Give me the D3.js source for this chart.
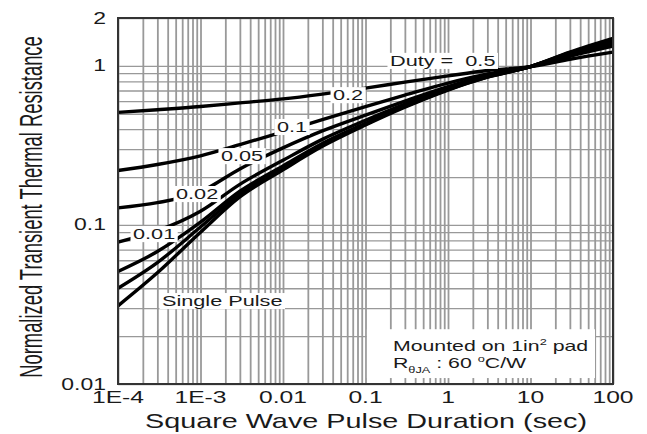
<!DOCTYPE html>
<html>
<head>
<meta charset="utf-8">
<script src="https://cdn.jsdelivr.net/npm/d3@7"></script>
<style>
  html, body { margin: 0; padding: 0; background: #fff; }
  svg { display: block; font-family: "Liberation Sans", Arial, sans-serif; }
</style>
</head>
<body>
<svg id="chart" width="647" height="434"></svg>
<script>
// Pulse durations (sec) at which each curve is sampled
const pulseDuration = [1e-4, 3e-4, 1e-3, 3e-3, 1e-2, 3e-2, 0.1, 0.3, 1, 3, 10, 30, 100];

// Normalized transient thermal resistance for each duty cycle
const duty05     = [0.51, 0.53, 0.555, 0.585, 0.62, 0.665, 0.725, 0.79, 0.865, 0.935, 0.99, 1.10, 1.22];
const duty02     = [0.22, 0.24, 0.272, 0.32, 0.385, 0.46, 0.555, 0.655, 0.78, 0.89, 0.99, 1.15, 1.33];
const duty01     = [0.128, 0.138, 0.162, 0.225, 0.305, 0.39, 0.49, 0.60, 0.74, 0.87, 0.99, 1.17, 1.38];
const duty005    = [0.078, 0.092, 0.122, 0.18, 0.255, 0.345, 0.455, 0.575, 0.725, 0.86, 0.99, 1.19, 1.42];
const duty002    = [0.051, 0.068, 0.104, 0.163, 0.235, 0.325, 0.435, 0.56, 0.715, 0.855, 0.99, 1.20, 1.45];
const duty001    = [0.040, 0.058, 0.097, 0.156, 0.228, 0.318, 0.43, 0.555, 0.71, 0.85, 0.99, 1.21, 1.47];
const singlePulse = [0.031, 0.050, 0.090, 0.150, 0.222, 0.312, 0.425, 0.55, 0.705, 0.85, 0.99, 1.22, 1.49];

const seriesList = [duty05, duty02, duty01, duty005, duty002, duty001, singlePulse];

// Axis ticks
const xTickValues = [1e-4, 1e-3, 0.01, 0.1, 1, 10, 100];
const xTickLabels = ["1E-4", "1E-3", "0.01", "0.1", "1", "10", "100"];
const yTickValues = [0.01, 0.1, 1, 2];
const yTickLabels = ["0.01", "0.1", "1", "2"];

// Curve annotations: text and anchor (pulse duration, resistance) of the text start/baseline
const curveLabelText = ["Duty =  0.5", "0.2", "0.1", "0.05", "0.02", "0.01", "Single Pulse"];
const curveLabelAt = [[0.198, 1.0], [0.0404, 0.609], [0.00845, 0.384], [0.00177, 0.252],
                      [5.05e-4, 0.1455], [1.52e-4, 0.0815], [3.41e-4, 0.0309]];

const W = 647, H = 434;
const plot = { left: 118, right: 613, top: 18, bottom: 384 };
const textColor = "#1a1a1a";
const gridColor = "#999";

const svg = d3.select("#chart");

const x = d3.scaleLog().domain([1e-4, 100]).range([plot.left, plot.right]);
const y = d3.scaleLog().domain([0.01, 2]).range([plot.bottom, plot.top]);

// Minor + major grid values (1..9 per decade)
const xGrid = [];
for (let e = -4; e <= 2; e++) for (let i = 1; i <= 9; i++) {
  const v = i * Math.pow(10, e);
  if (v <= 100 * 1.0001) xGrid.push(v);
}
const yGrid = [];
for (let e = -2; e <= 0; e++) for (let i = 1; i <= 9; i++) {
  const v = i * Math.pow(10, e);
  if (v <= 2) yGrid.push(v);
}

// Vertical grid
svg.append("g")
  .attr("transform", `translate(0,${plot.bottom})`)
  .call(d3.axisBottom(x).tickValues(xGrid).tickSize(-(plot.bottom - plot.top)).tickFormat(""))
  .call(g => g.select(".domain").remove())
  .call(g => g.selectAll("line").attr("stroke", gridColor).attr("stroke-width", 1.8));

// Horizontal grid
svg.append("g")
  .attr("transform", `translate(${plot.left},0)`)
  .call(d3.axisLeft(y).tickValues(yGrid).tickSize(-(plot.right - plot.left)).tickFormat(""))
  .call(g => g.select(".domain").remove())
  .call(g => g.selectAll("line").attr("stroke", gridColor).attr("stroke-width", 1.3));

// Curves
const line = d3.line()
  .x((d, i) => x(pulseDuration[i]))
  .y(d => y(d))
  .curve(d3.curveMonotoneX);

svg.append("g")
  .selectAll("path")
  .data(seriesList)
  .join("path")
  .attr("d", line)
  .attr("fill", "none")
  .attr("stroke", "#000")
  .attr("stroke-width", 3.4)
  .attr("stroke-linejoin", "round");

// Curve labels on white boxes
const labelScale = 1.55;
curveLabelText.forEach((t, i) => {
  const [px, py] = curveLabelAt[i];
  const g = svg.append("g")
    .attr("transform", `translate(${x(px)},${y(py)}) scale(${labelScale},1)`);
  const txt = g.append("text")
    .attr("font-size", 14)
    .attr("fill", textColor)
    .attr("xml:space", "preserve")
    .style("white-space", "pre")
    .text(t);
  const bb = txt.node().getBBox();
  g.insert("rect", "text")
    .attr("x", bb.x - 2.5 / labelScale)
    .attr("y", bb.y)
    .attr("width", bb.width + 5 / labelScale)
    .attr("height", bb.height)
    .attr("fill", "#fff");
});

// Mounting condition note
const noteBox = svg.append("g");
noteBox.append("rect")
  .attr("x", x(0.104))
  .attr("y", y(0.0221))
  .attr("width", x(60.5) - x(0.104))
  .attr("height", y(0.0109) - y(0.0221))
  .attr("fill", "#fff");
const note1 = noteBox.append("text")
  .attr("transform", `translate(${x(0.215)},${y(0.0161)}) scale(1.42,1)`)
  .attr("font-size", 15).attr("fill", textColor);
note1.append("tspan").text("Mounted on 1in");
note1.append("tspan").attr("font-size", 9).attr("dy", -6).text("2");
note1.append("tspan").attr("dy", 6).text(" pad");
const note2 = noteBox.append("text")
  .attr("transform", `translate(${x(0.215)},${y(0.0126)}) scale(1.42,1)`)
  .attr("font-size", 15).attr("fill", textColor);
note2.append("tspan").text("R");
note2.append("tspan").attr("font-size", 9).attr("dy", 5).text("θJA");
note2.append("tspan").attr("dy", -5).text(" : 60 ");
note2.append("tspan").attr("font-size", 9).attr("dy", -6).text("o");
note2.append("tspan").attr("dy", 6).text("C/W");

// Plot frame
svg.append("rect")
  .attr("x", plot.left).attr("y", plot.top)
  .attr("width", plot.right - plot.left).attr("height", plot.bottom - plot.top)
  .attr("fill", "none").attr("stroke", "#333").attr("stroke-width", 2);

// X tick labels
svg.append("g").selectAll("text")
  .data(xTickValues)
  .join("text")
  .attr("transform", d => `translate(${x(d)},403) scale(1.45,1)`)
  .attr("text-anchor", "middle")
  .attr("font-size", 17)
  .attr("fill", textColor)
  .text((d, i) => xTickLabels[i]);

// Y tick labels
svg.append("g").selectAll("text")
  .data(yTickValues)
  .join("text")
  .attr("transform", d => `translate(106,${y(d) + (d === 0.01 ? 6 : 5.5)}) scale(1.35,1)`)
  .attr("text-anchor", "end")
  .attr("font-size", 17)
  .attr("fill", textColor)
  .text((d, i) => yTickLabels[i]);

// Axis titles
svg.append("text")
  .attr("transform", `translate(366,428) scale(1.44,1)`)
  .attr("text-anchor", "middle")
  .attr("font-size", 20)
  .attr("fill", textColor)
  .text("Square Wave Pulse Duration (sec)");

svg.append("text")
  .attr("transform", `translate(42,207) rotate(-90) scale(0.574,1)`)
  .attr("text-anchor", "middle")
  .attr("font-size", 32)
  .attr("fill", textColor)
  .text("Normalized Transient Thermal Resistance");
</script>
</body>
</html>
